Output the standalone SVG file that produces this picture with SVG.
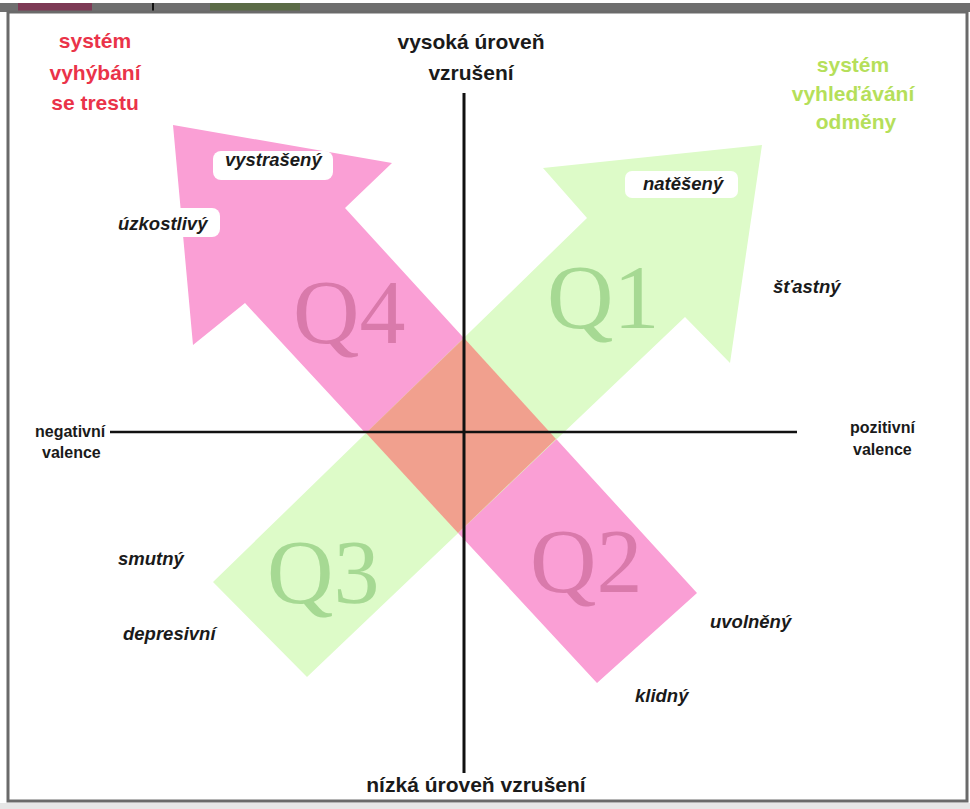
<svg xmlns="http://www.w3.org/2000/svg" width="970" height="809" viewBox="0 0 970 809">
<defs>
<style>
.ax{font-family:"Liberation Sans",Arial,sans-serif;font-weight:bold;fill:#1a1a1a}
.big{font-size:21px;text-anchor:middle}
.sm{font-size:16px}
.lbl{font-family:"Liberation Sans",Arial,sans-serif;font-weight:bold;font-style:italic;font-size:18.5px;fill:#1a1a1a}
.red{font-family:"Liberation Sans",Arial,sans-serif;font-weight:bold;font-size:21px;fill:#ea3349;text-anchor:middle}
.grn{font-family:"Liberation Sans",Arial,sans-serif;font-weight:bold;font-size:21px;fill:#b5df5a;text-anchor:middle}
.q{font-family:"Liberation Serif","Times New Roman",serif;font-size:92px}
.qp{fill:#d97aab}
.qg{fill:#a6d993}
.box{fill:#ffffff}
.axis{stroke:#111;fill:none}
</style>
</defs>
<rect x="0" y="0" width="970" height="809" fill="#ffffff"/>
<g id="frame">
<rect x="0" y="3" width="970" height="9" fill="#6f6f6f"/>
<rect x="18" y="3" width="74" height="9" fill="#7d3a55"/>
<rect x="210" y="3" width="90" height="9" fill="#5b6b46"/>
<rect x="152" y="3" width="2" height="9" fill="#111"/>
<rect x="0" y="803" width="970" height="6" fill="#e6e6e6"/>
<rect x="8" y="12" width="959" height="789" fill="none" stroke="#6a6a6a" stroke-width="3"/>
</g>
<g id="arrow-punishment">
<polygon points="173,125 392,163 345,208 697,593 597,683 245,303 193,345" fill="#fa9fd5"/>
</g>
<g id="arrow-reward">
<polygon points="213,582 587,218 543,168 762,145 730,363 685,317 307,677" fill="#ddfbc8"/>
</g>
<g id="overlap">
<polygon points="464,338 556,439 458,533 366,433" fill="#f1a08e"/>
</g>
<g id="quadrants">
<text class="q qp" x="293" y="343">Q4</text>
<text class="q qg" x="547" y="328">Q1</text>
<text class="q qg" x="267" y="603">Q3</text>
<text class="q qp" x="530" y="592">Q2</text>
</g>
<g id="connectors">
<line class="axis" x1="464" y1="93" x2="464" y2="773" stroke-width="3"/>
<line class="axis" x1="110" y1="432" x2="797" y2="432" stroke-width="2.5"/>
</g>
<g id="axis-labels">
<text class="ax big" x="471" y="49">vysoká úroveň</text>
<text class="ax big" x="471" y="80">vzrušení</text>
<text class="ax big" x="476" y="792">nízká úroveň vzrušení</text>
<text class="ax sm" x="35" y="437">negativní</text>
<text class="ax sm" x="42" y="458">valence</text>
<text class="ax sm" x="850" y="433">pozitivní</text>
<text class="ax sm" x="853" y="455">valence</text>
</g>
<g id="system-punishment">
<text class="red" x="95" y="48">systém</text>
<text class="red" x="95" y="80">vyhýbání</text>
<text class="red" x="95" y="110">se trestu</text>
</g>
<g id="system-reward">
<text class="grn" x="853" y="72">systém</text>
<text class="grn" x="853" y="101">vyhleďávání</text>
<text class="grn" x="856" y="129">odměny</text>
</g>
<g id="emotion-vystraseny">
<rect class="box" x="213" y="151" width="120" height="29" rx="8"/>
<text class="lbl" x="225" y="166">vystrašený</text>
</g>
<g id="emotion-uzkostlivy">
<rect class="box" x="108" y="208" width="112" height="29" rx="8"/>
<text class="lbl" x="118" y="230">úzkostlivý</text>
</g>
<g id="emotion-natezeny">
<rect class="box" x="625" y="171" width="113" height="27" rx="7"/>
<text class="lbl" x="643" y="190">natěšený</text>
</g>
<g id="emotion-stastny"><text class="lbl" x="773" y="293">šťastný</text></g>
<g id="emotion-smutny"><text class="lbl" x="118" y="565">smutný</text></g>
<g id="emotion-depresivni"><text class="lbl" x="123" y="640">depresivní</text></g>
<g id="emotion-uvolneny"><text class="lbl" x="710" y="628">uvolněný</text></g>
<g id="emotion-klidny"><text class="lbl" x="635" y="702">klidný</text></g>
</svg>
